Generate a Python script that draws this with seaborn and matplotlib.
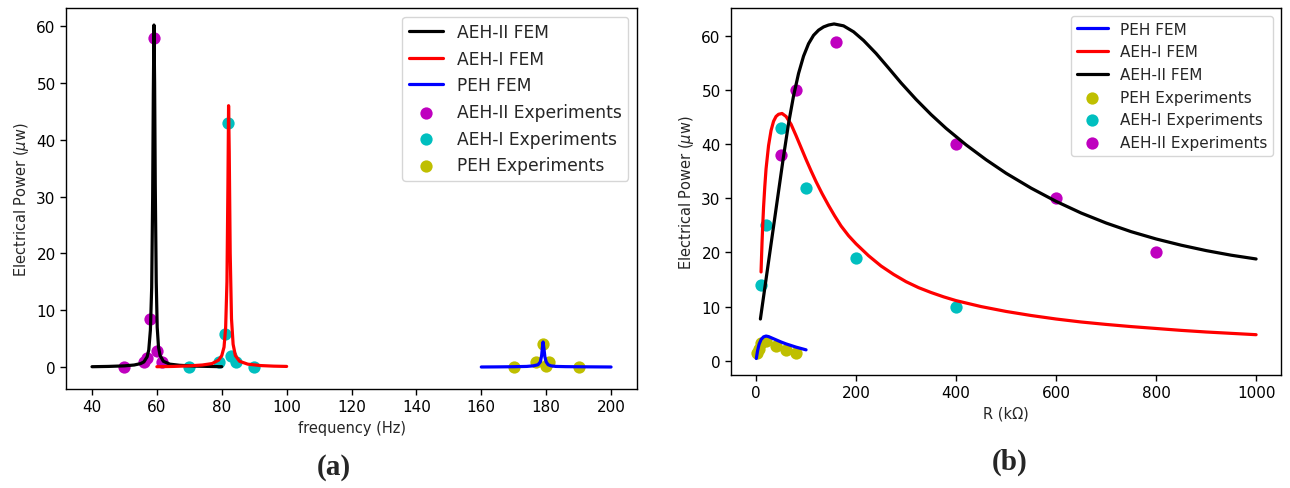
import matplotlib
matplotlib.use("Agg")
import matplotlib.pyplot as plt
import seaborn as sns

# ---------------- (a) power vs. excitation frequency ----------------
freq_aeh2_fem = [40, 45, 50, 53, 55, 56, 57, 57.5, 58, 58.4, 58.7, 58.9, 59.1,
                 59.3, 59.5, 59.8, 60.1, 60.5, 61, 62, 64, 67, 72, 80]
power_aeh2_fem = [0.05, 0.1, 0.2, 0.35, 0.6, 0.9, 1.8, 3.0, 6.5, 14, 30, 48, 60.2,
                  50, 32, 15, 7, 3.5, 2.0, 1.0, 0.5, 0.3, 0.15, 0.05]

freq_aeh1_fem = [60, 65, 70, 74, 77, 79, 80, 80.7, 81.2, 81.6, 81.9, 82.1, 82.3,
                 82.6, 83, 83.5, 84.2, 85.5, 88, 92, 96, 100]
power_aeh1_fem = [0.05, 0.1, 0.2, 0.35, 0.6, 1.2, 2.0, 3.5, 7, 15, 32, 46, 38,
                  20, 8.5, 4.0, 2.0, 1.0, 0.5, 0.25, 0.15, 0.1]

freq_peh_fem = [160, 165, 170, 174, 176, 177.5, 178.2, 178.6, 178.85, 179.05,
                179.3, 179.6, 180.0, 180.6, 181.5, 183, 186, 190, 195, 200]
power_peh_fem = [0.0, 0.02, 0.05, 0.1, 0.2, 0.4, 0.9, 2.0, 3.5, 4.4,
                 3.3, 1.8, 0.9, 0.4, 0.2, 0.1, 0.06, 0.04, 0.02, 0.0]

freq_aeh2_exp = [50, 56, 57, 58, 59, 60, 61.5]
power_aeh2_exp = [0.0, 0.8, 1.6, 8.4, 58, 2.9, 0.8]

freq_aeh1_exp = [70, 79, 81, 82, 83, 84.5, 90]
power_aeh1_exp = [0.0, 0.8, 5.8, 43, 2.0, 0.8, 0.0]

freq_peh_exp = [170, 177, 179, 180, 181, 190]
power_peh_exp = [0.0, 0.8, 4.0, 0.2, 0.8, 0.0]

# ---------------- (b) power vs. load resistance ----------------
r_peh_fem = [0.5, 3, 6, 10, 15, 20, 25, 30, 40, 50, 60, 70, 80, 90, 100]
p_peh_fem = [0.4, 1.8, 3.0, 3.9, 4.4, 4.55, 4.45, 4.25, 3.85, 3.45, 3.1, 2.8,
             2.5, 2.25, 2.0]

r_aeh1_fem = [10, 11, 12, 13.5, 15, 17.5, 20, 25, 30, 35, 40, 45, 52, 60, 70,
              80, 90, 100, 110, 120, 132, 145, 157, 170, 185, 200, 225, 250,
              275, 300, 325, 350, 375, 400, 450, 500, 550, 600, 650, 700, 750,
              800, 850, 900, 950, 1000]
p_aeh1_fem = [16.4, 19.2, 21.9, 25.3, 28.35, 32.2, 35.45, 39.75, 42.55, 44.25,
              45.15, 45.55, 45.7, 45.15, 43.7, 41.6, 39.4, 37.2, 35.1, 33.1,
              30.9, 28.7, 26.8, 24.9, 23.1, 21.6, 19.4, 17.5, 15.95, 14.6, 13.5,
              12.6, 11.8, 11.1, 10.0, 9.1, 8.35, 7.7, 7.15, 6.7, 6.3, 5.95, 5.6,
              5.3, 5.05, 4.8]

r_aeh2_fem = [8.7, 15, 22, 30, 38, 46, 55, 65, 75, 85, 95, 105, 115, 125, 135,
              145, 156, 175, 195, 215, 240, 265, 290, 320, 350, 380, 420, 460,
              500, 550, 600, 650, 700, 750, 800, 850, 900, 950, 1000]
p_aeh2_fem = [7.7, 11.8, 16.35, 21.55, 26.75, 31.95, 37.8, 43.85, 48.95, 53.1,
              56.3, 58.6, 60.15, 61.1, 61.7, 62.05, 62.25, 61.9, 60.8, 59.2,
              56.8, 54.1, 51.35, 48.3, 45.5, 42.95, 39.9, 37.15, 34.65, 31.9,
              29.45, 27.3, 25.45, 23.85, 22.5, 21.35, 20.35, 19.5, 18.8]

r_peh_exp = [1, 5, 10, 20, 40, 60, 80]
p_peh_exp = [1.5, 2.2, 3.2, 3.6, 2.8, 2.0, 1.5]

r_aeh1_exp = [10, 20, 50, 100, 200, 400]
p_aeh1_exp = [14, 25, 43, 32, 19, 10]

r_aeh2_exp = [50, 80, 160, 400, 600, 800]
p_aeh2_exp = [38, 50, 59, 40, 30, 20]

freq_ticks = [40, 60, 80, 100, 120, 140, 160, 180, 200]
r_ticks = [0, 200, 400, 600, 800, 1000]
power_ticks = [0, 10, 20, 30, 40, 50, 60]

sns.set_style("ticks")
plt.rcParams["font.family"] = ["DejaVu Sans"]
plt.rcParams["axes.edgecolor"] = "black"
plt.rcParams["xtick.color"] = "black"
plt.rcParams["ytick.color"] = "black"
plt.rcParams["axes.linewidth"] = 1.0

fig = plt.figure(figsize=(12.9, 4.89), dpi=100)
ax_a = fig.add_axes([0.0512, 0.2025, 0.4426, 0.7791])
ax_b = fig.add_axes([0.5667, 0.2311, 0.4264, 0.7505])

LW = 2.3
MS = 78

def curve(ax, x, y, color, label):
    sns.lineplot(x=x, y=y, ax=ax, color=color, lw=LW, label=label,
                 sort=False, estimator=None)

def dots(ax, x, y, color, label):
    sns.scatterplot(x=x, y=y, ax=ax, color=color, s=MS, linewidth=0,
                    label=label)

# panel (a)
curve(ax_a, freq_aeh2_fem, power_aeh2_fem, "k", "AEH-II FEM")
curve(ax_a, freq_aeh1_fem, power_aeh1_fem, "r", "AEH-I FEM")
curve(ax_a, freq_peh_fem, power_peh_fem, "b", "PEH FEM")
dots(ax_a, freq_aeh2_exp, power_aeh2_exp, "m", "AEH-II Experiments")
dots(ax_a, freq_aeh1_exp, power_aeh1_exp, "c", "AEH-I Experiments")
dots(ax_a, freq_peh_exp, power_peh_exp, "y", "PEH Experiments")

ax_a.set_xlim(32, 208)
ax_a.set_ylim(-3.87, 63.2)
ax_a.set_xticks(freq_ticks)
ax_a.set_yticks(power_ticks)
ax_a.set_xlabel("frequency (Hz)", fontsize=10.5)
ax_a.set_ylabel(r"Electrical Power ($\mu$w)", fontsize=10.5)

# panel (b)
curve(ax_b, r_peh_fem, p_peh_fem, "b", "PEH FEM")
curve(ax_b, r_aeh1_fem, p_aeh1_fem, "r", "AEH-I FEM")
curve(ax_b, r_aeh2_fem, p_aeh2_fem, "k", "AEH-II FEM")
dots(ax_b, r_peh_exp, p_peh_exp, "y", "PEH Experiments")
dots(ax_b, r_aeh1_exp, p_aeh1_exp, "c", "AEH-I Experiments")
dots(ax_b, r_aeh2_exp, p_aeh2_exp, "m", "AEH-II Experiments")

ax_b.set_xlim(-50, 1050)
ax_b.set_ylim(-2.65, 65.2)
ax_b.set_xticks(r_ticks)
ax_b.set_yticks(power_ticks)
ax_b.set_xlabel("R (k\u03a9)", fontsize=10.5)
ax_b.set_ylabel(r"Electrical Power ($\mu$w)", fontsize=10.5)

for ax, legend_size in ((ax_a, 12.3), (ax_b, 11)):
    for side in ("top", "right", "left", "bottom"):
        ax.spines[side].set_visible(True)
    ax.tick_params(labelsize=11, length=4, width=1, direction="out")
    ax.legend(loc="upper right", fontsize=legend_size, frameon=True,
              scatterpoints=1)

fig.text(0.259, 0.043, "(a)", fontsize=21, fontweight="bold",
         family="Liberation Serif", ha="center", va="center")
fig.text(0.783, 0.055, "(b)", fontsize=21, fontweight="bold",
         family="Liberation Serif", ha="center", va="center")

fig.savefig("out.png", dpi=100)
